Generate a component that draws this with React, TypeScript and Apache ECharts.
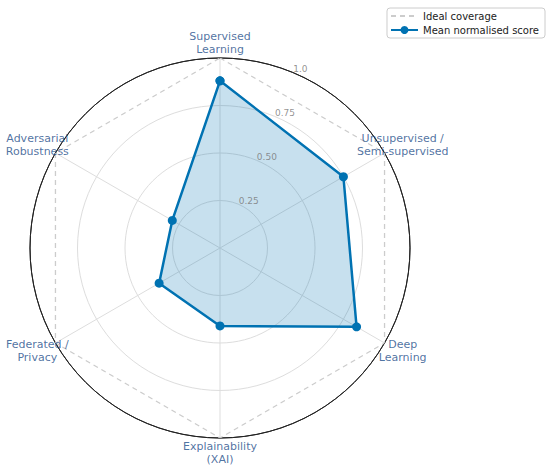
import React, { useEffect, useRef } from "react";
import * as echarts from "echarts";

const categories = [
  "Supervised\nLearning",
  "Unsupervised /\nSemi-supervised",
  "Deep\nLearning",
  "Explainability\n(XAI)",
  "Federated /\nPrivacy",
  "Adversarial\nRobustness",
];
const meanScores = [0.88, 0.75, 0.83, 0.41, 0.37, 0.29];
const idealScores = [1, 1, 1, 1, 1, 1];
const radialTicks = [0.25, 0.5, 0.75, 1.0];
const radialTickLabels = ["0.25", "0.50", "0.75", "1.0"];

const LABEL_RADIUS = 1.08;
const RLABEL_ANGLE = 22.5;
const BLUE = "#0072B2";
const FONT = "DejaVu Sans";
const STEP = 360 / categories.length;

function closed(values: number[]) {
  const pts = values.map((v, i) => [v, i * STEP]);
  pts.push([values[0], values.length * STEP]);
  return pts;
}

export default function App() {
  const ref = useRef<HTMLDivElement>(null);
  useEffect(() => {
    document.body.style.margin = "0";
    const chart = echarts.init(ref.current!, undefined, { renderer: "svg" });
    const center = [220, 248];
    const radius = 190;
    chart.setOption({
      animation: false,
      backgroundColor: "#ffffff",
      textStyle: { fontFamily: FONT },
      legend: {
        data: ["Ideal coverage", "Mean normalised score"],
        orient: "vertical",
        right: 5,
        top: 8,
        itemWidth: 27,
        itemHeight: 10,
        itemGap: 4,
        padding: [3, 6, 3, 3],
        borderColor: "#cccccc",
        borderWidth: 1,
        borderRadius: 3,
        backgroundColor: "#ffffff",
        textStyle: { fontSize: 10, color: "#222", fontFamily: FONT },
      },
      polar: { center, radius },
      angleAxis: {
        type: "value",
        min: 0,
        max: 360,
        interval: STEP,
        startAngle: 90,
        clockwise: true,
        axisLine: { show: true, lineStyle: { color: "#222", width: 1 } },
        axisTick: { show: false },
        axisLabel: { show: false },
        splitLine: { show: true, lineStyle: { color: "#dddddd", width: 1 } },
      },
      radiusAxis: {
        min: 0,
        max: 1,
        interval: 0.25,
        axisLine: { show: false },
        axisTick: { show: false },
        axisLabel: { show: false },
        splitLine: {
          show: true,
          lineStyle: {
            color: ["#dddddd", "#dddddd", "#dddddd", "#dddddd", "#222222"],
            width: 1,
          },
        },
      },
      series: [
        {
          name: "Ideal coverage",
          type: "line",
          coordinateSystem: "polar",
          data: closed(idealScores),
          symbol: "none",
          clip: false,
          lineStyle: { color: "#cccccc", width: 1.3, type: [5, 4] },
          itemStyle: { color: "rgba(0,0,0,0)" },
          z: 2,
        },
        {
          name: "Mean normalised score",
          type: "line",
          coordinateSystem: "polar",
          data: closed(meanScores),
          symbol: "circle",
          symbolSize: 9,
          clip: false,
          lineStyle: { color: BLUE, width: 2.5 },
          itemStyle: { color: BLUE },
          areaStyle: { color: BLUE, opacity: 0.22 },
          z: 3,
        },
        {
          name: "catLabels",
          type: "scatter",
          coordinateSystem: "polar",
          clip: false,
          symbolSize: 1,
          itemStyle: { color: "rgba(0,0,0,0)" },
          data: categories.map((c, i) => {
            const s = Math.sin((i * STEP * Math.PI) / 180);
            return {
              value: [LABEL_RADIUS, i * STEP],
              label: { offset: [Math.abs(s) > 0.1 ? Math.sign(s) * 5 : 0, 0] },
            };
          }),
          label: {
            show: true,
            position: "inside",
            align: "center",
            verticalAlign: "middle",
            formatter: (p: any) => categories[p.dataIndex],
            color: "#1f4f8a",
            fontSize: 11,
            lineHeight: 13,
            fontFamily: FONT,
          },
          silent: true,
          z: 5,
        },
        {
          name: "tickLabels",
          type: "scatter",
          coordinateSystem: "polar",
          clip: false,
          symbolSize: 1,
          itemStyle: { color: "rgba(0,0,0,0)" },
          data: radialTicks.map((t) => [t, RLABEL_ANGLE]),
          label: {
            show: true,
            position: [0, 0],
            align: "left",
            verticalAlign: "bottom",
            offset: [1, 2],
            formatter: (p: any) => radialTickLabels[p.dataIndex],
            color: "#777777",
            fontSize: 9,
            fontFamily: FONT,
          },
          silent: true,
          z: 5,
        },
      ],
    });
    return () => chart.dispose();
  }, []);
  return (
    <div
      ref={ref}
      style={{ position: "fixed", left: 0, top: 0, width: 550, height: 472 }}
    />
  );
}
